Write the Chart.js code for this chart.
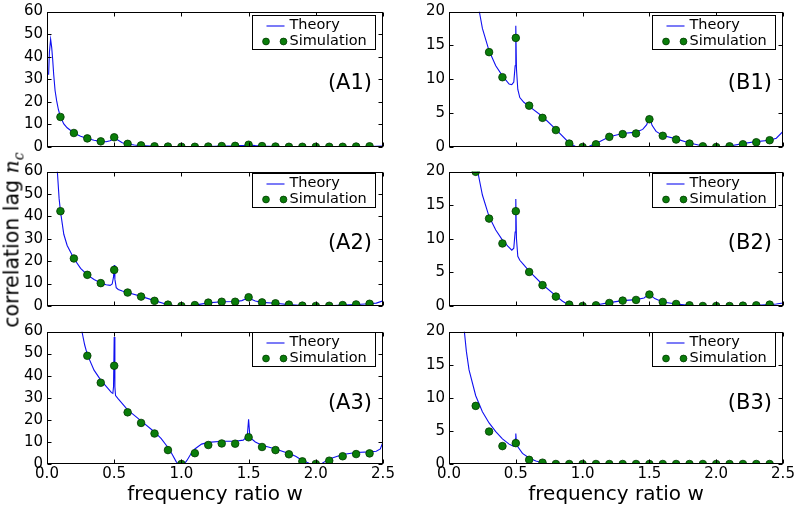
<!DOCTYPE html>
<html>
<head>
<meta charset="utf-8">
<script src="https://cdn.jsdelivr.net/npm/chart.js@4.4.1/dist/chart.umd.min.js"></script>
<style>
  html, body { margin:0; padding:0; background:#fff; }
  #wrap { position:relative; width:799px; height:510px; overflow:hidden; font-family:"DejaVu Sans", sans-serif; }
  .cell { position:absolute; }
  #ylab { position:absolute; left:13px; top:240px; transform:translate(-50%,-50%) rotate(-90deg); white-space:nowrap; font-size:20.5px; color:#000; }
  #ylab i { font-family:"DejaVu Serif", serif; }
  #ylab sub { font-size:14px; }
</style>
</head>
<body>
<div id="wrap">
  <div class="cell" style="left:0;top:0"><canvas id="cA1" width="400" height="160"></canvas></div>
  <div class="cell" style="left:0;top:160px"><canvas id="cA2" width="400" height="160"></canvas></div>
  <div class="cell" style="left:0;top:320px"><canvas id="cA3" width="400" height="190"></canvas></div>
  <div class="cell" style="left:400px;top:0"><canvas id="cB1" width="399" height="160"></canvas></div>
  <div class="cell" style="left:400px;top:160px"><canvas id="cB2" width="399" height="160"></canvas></div>
  <div class="cell" style="left:400px;top:320px"><canvas id="cB3" width="399" height="190"></canvas></div>
  <div id="ylab">correlation lag <i>n</i><sub><i>c</i></sub></div>
</div>
<script>
// simulation sample points (frequency ratio w)
const simX = [0.1,0.2,0.3,0.4,0.5,0.6,0.7,0.8,0.9,1.0,1.1,1.2,1.3,1.4,1.5,1.6,1.7,1.8,1.9,2.0,2.1,2.2,2.3,2.4];

const simA1 = [13.3,6.2,3.8,2.5,4.3,1.4,0.7,0.3,0.2,0.1,0.1,0.2,0.4,0.5,1.0,0.4,0.2,0.1,0.1,0.1,0.1,0.1,0.2,0.3];
const simA2 = [42.3,21.2,13.9,10.2,16.1,6.0,4.2,2.3,0.6,0,0.4,1.5,1.9,1.9,3.9,1.6,1.2,0.6,0.15,0,0.1,0.4,0.7,1.0];
const simA3 = [null,null,49.0,36.8,44.5,23.4,18.6,13.8,6.3,0,4.9,8.6,9.3,9.2,12.1,7.7,6.3,4.4,1.2,0,1.5,3.5,4.5,4.8];
const simB1 = [null,null,14.0,10.3,16.1,6.1,4.3,2.5,0.5,0,0.4,1.5,1.9,2.0,4.1,1.65,1.1,0.5,0.1,0,0.1,0.4,0.7,1.0];
const simB2 = [null,19.95,13.0,9.3,14.1,5.06,3.1,1.4,0.2,0,0.1,0.45,0.8,0.9,1.7,0.6,0.3,0.1,0,0,0,0.05,0.1,0.2];
const simB3 = [null,8.77,4.9,2.7,3.15,0.63,0.2,0,0,0,0,0,0,0,0,0,0,0,0,0,0,0,0,0];

// theory curves, [w, n_c] pairs
const theoryA1 = [[0.012,32],[0.018,42],[0.027,47.7],[0.035,44],[0.042,39],[0.05,32],[0.06,25],[0.072,20.4],[0.085,16.5],[0.1,13.4],
  [0.125,10.2],[0.15,8.5],[0.2,6.2],[0.25,4.8],[0.3,3.8],[0.35,3.0],[0.4,2.5],[0.44,2.3],[0.47,2.8],[0.5,4.0],[0.53,3.0],[0.56,1.9],
  [0.6,1.3],[0.65,0.9],[0.7,0.6],[0.8,0.3],[0.9,0.2],[1.0,0.1],[1.1,0.15],[1.2,0.25],[1.3,0.4],[1.4,0.5],[1.47,0.7],[1.5,0.9],
  [1.55,0.6],[1.6,0.4],[1.7,0.15],[1.8,0.05],[1.9,0.02],[2.0,0.02],[2.1,0.05],[2.2,0.1],[2.3,0.15],[2.4,0.25],[2.5,0.4]];
const theoryA2 = [[0.077,60],[0.09,48],[0.1,42.3],[0.125,32],[0.15,27],[0.2,21.2],[0.25,16.8],[0.3,13.9],[0.35,11.8],[0.4,10.3],
  [0.44,9.5],[0.47,9.2],[0.485,9.8],[0.495,13],[0.5,18.3],[0.505,12],[0.515,8.2],[0.53,7.4],[0.56,6.7],[0.6,6.0],[0.7,4.3],[0.8,2.4],
  [0.9,0.6],[0.95,0.1],[1.0,0],[1.05,0.1],[1.1,0.4],[1.2,1.4],[1.3,1.9],[1.4,2.0],[1.45,2.4],[1.48,3.2],[1.5,4.0],[1.52,3.0],
  [1.55,2.2],[1.6,1.6],[1.7,1.2],[1.8,0.6],[1.9,0.15],[2.0,0],[2.1,0.1],[2.2,0.4],[2.3,0.7],[2.4,1.0],[2.45,1.3],[2.5,2.3]];
const theoryA3 = [[0.26,60],[0.28,54],[0.3,49.5],[0.35,42.5],[0.4,38],[0.45,34.5],[0.48,32.3],[0.49,32],[0.495,35],[0.5,57.5],
  [0.505,35],[0.51,31],[0.53,29.5],[0.6,24.5],[0.7,19.5],[0.8,14.5],[0.85,11.5],[0.9,7.5],[0.93,4.5],[0.96,1.2],[0.975,0],[1.02,0],
  [1.04,1.5],[1.07,4.5],[1.1,6.8],[1.15,9.0],[1.2,9.8],[1.3,10.3],[1.4,10.3],[1.46,10.8],[1.49,12.5],[1.5,20.3],[1.51,12],[1.55,10],
  [1.6,8.5],[1.7,6.8],[1.8,4.8],[1.85,3.5],[1.9,1.6],[1.95,0.3],[1.97,0],[2.04,0],[2.07,1.2],[2.1,2.3],[2.2,4.3],[2.3,5.2],
  [2.4,5.5],[2.45,5.8],[2.48,6.8],[2.5,10]];
const theoryB1 = [[0.227,20],[0.25,17.5],[0.3,14.2],[0.35,12],[0.4,10.5],[0.45,9.3],[0.47,9.2],[0.485,9.6],[0.495,12],[0.5,17.9],
  [0.505,11.5],[0.515,8.5],[0.53,7.3],[0.56,6.6],[0.6,6.0],[0.7,4.5],[0.8,2.6],[0.9,0.6],[0.95,0.05],[1.0,0],[1.05,0.1],[1.1,0.5],
  [1.2,1.5],[1.3,2.0],[1.4,2.2],[1.45,2.6],[1.48,3.3],[1.5,4.5],[1.52,3.2],[1.55,2.3],[1.6,1.7],[1.7,1.2],[1.8,0.6],[1.9,0.15],
  [2.0,0],[2.1,0.15],[2.2,0.5],[2.3,0.8],[2.4,1.0],[2.45,1.3],[2.5,2.3]];
const theoryB2 = [[0.215,20],[0.25,16.5],[0.3,13.3],[0.35,11.3],[0.4,9.8],[0.44,8.9],[0.47,8.3],[0.485,8.6],[0.495,11],[0.5,15.9],
  [0.505,10],[0.515,7.4],[0.53,6.8],[0.56,6.1],[0.6,5.2],[0.7,3.2],[0.8,1.5],[0.85,0.7],[0.9,0.1],[0.95,0],[1.05,0],[1.1,0.15],
  [1.2,0.5],[1.3,0.8],[1.4,0.95],[1.46,1.2],[1.5,1.8],[1.54,1.1],[1.6,0.6],[1.7,0.3],[1.8,0.1],[1.9,0],[2.1,0],[2.2,0.05],
  [2.3,0.1],[2.4,0.2],[2.45,0.3],[2.5,0.45]];
const theoryB3 = [[0.115,20],[0.13,17],[0.15,14.2],[0.2,10.3],[0.25,7.9],[0.3,6.2],[0.35,4.9],[0.4,3.8],[0.45,3.0],[0.48,2.7],
  [0.49,2.8],[0.497,3.8],[0.5,4.6],[0.505,3.2],[0.515,2.6],[0.55,1.6],[0.6,0.9],[0.65,0.45],[0.7,0.18],[0.75,0.03],[0.77,0],[2.5,0]];

const xTicks = [0.0,0.5,1.0,1.5,2.0,2.5];
const yMaxA = 60, yStepA = 10;
const yMaxB = 20, yStepB = 5;

const FONT = '"DejaVu Sans", sans-serif';
const BLUE = '#1010f0', GREEN = '#0a7d0a', GREEN_EDGE = '#003a00';

// frame, inward ticks, boxed legend and panel label (matplotlib look)
const framePlugin = {
  id: 'frame',
  afterDatasetsDraw(chart, args, opts){
    const ctx = chart.ctx, a = chart.chartArea;
    const L = Math.round(a.left)+0.5, R = Math.round(a.right)-0.5, T = Math.round(a.top)+0.5, B = Math.round(a.bottom)-0.5;
    ctx.save();
    ctx.strokeStyle = '#000'; ctx.lineWidth = 1;
    ctx.strokeRect(L, T, R-L, B-T);
    const tl = 4;
    ctx.beginPath();
    chart.scales.x.ticks.forEach(t => {
      const px = Math.round(chart.scales.x.getPixelForValue(t.value))+0.5;
      ctx.moveTo(px, B); ctx.lineTo(px, B-tl);
      ctx.moveTo(px, T); ctx.lineTo(px, T+tl);
    });
    chart.scales.y.ticks.forEach(t => {
      const py = Math.round(chart.scales.y.getPixelForValue(t.value))+0.5;
      ctx.moveTo(L, py); ctx.lineTo(L+tl, py);
      ctx.moveTo(R, py); ctx.lineTo(R-tl, py);
    });
    ctx.stroke();

    // legend box
    const bw = 123, bh = 34;
    const bx = Math.round(a.right - 8 - bw)+0.5, by = Math.round(a.top + (opts.legendGap||0))+0.5;
    ctx.fillStyle = '#fff';
    ctx.fillRect(bx, by, bw, bh);
    ctx.strokeStyle = '#000';
    ctx.strokeRect(bx, by, bw, bh);
    const r1 = by + 10, r2 = by + 26;
    ctx.strokeStyle = BLUE; ctx.lineWidth = 1.1;
    ctx.beginPath(); ctx.moveTo(bx+14, Math.round(r1)); ctx.lineTo(bx+32, Math.round(r1)); ctx.stroke();
    [bx+13.5, bx+31].forEach(cx => {
      ctx.beginPath(); ctx.arc(cx, r2, 3.4, 0, Math.PI*2);
      ctx.fillStyle = GREEN; ctx.fill();
      ctx.strokeStyle = GREEN_EDGE; ctx.lineWidth = 0.8; ctx.stroke();
    });
    ctx.fillStyle = '#000';
    ctx.font = '14.5px ' + FONT;
    ctx.textAlign = 'left'; ctx.textBaseline = 'middle';
    ctx.fillText('Theory', bx+37, r1);
    ctx.fillText('Simulation', bx+37, r2);

    // panel label
    ctx.font = '21px ' + FONT;
    ctx.textAlign = 'right';
    ctx.fillText(opts.label, a.right - 11, a.top + 72);
    ctx.restore();
  }
};

function makePanel(id, cfg){
  const simPts = simX.map((x,i) => ({x:x, y:cfg.sim[i]})).filter(p => p.y !== null);
  const thPts = cfg.theory.map(p => ({x:p[0], y:p[1]}));
  const bottomRow = cfg.bottom;
  new Chart(document.getElementById(id), {
    type: 'scatter',
    data: {
      datasets: [
        { label:'Theory', data: thPts, showLine:true, borderColor:BLUE, borderWidth:1.1, pointRadius:0, tension:0, order:2 },
        { label:'Simulation', data: simPts, showLine:false, pointRadius:3.8, pointBackgroundColor:GREEN,
          pointBorderColor:GREEN_EDGE, pointBorderWidth:0.8, order:1 }
      ]
    },
    plugins: [framePlugin],
    options: {
      responsive:false,
      animation:false,
      layout: { padding: cfg.pad },
      plugins: {
        legend: { display:false },
        tooltip: { enabled:false },
        frame: { label: cfg.label, legendGap: cfg.gap }
      },
      scales: {
        x: {
          type:'linear', min:0, max:2.5,
          afterBuildTicks: s => { s.ticks = xTicks.map(v => ({value:v})); },
          grid: { display:false, drawTicks:false },
          border: { display:false },
          ticks: { display: bottomRow, color:'#000', padding:3, font:{family:FONT, size:15, lineHeight:1},
                   maxRotation:0, callback: v => Number(v).toFixed(1) },
          title: { display: bottomRow, text:'frequency ratio w', color:'#000', font:{family:FONT, size:20}, padding:{top:0, bottom:3} },
          afterFit: s => { s.height = bottomRow ? 46 : 0; }
        },
        y: {
          type:'linear', min:0, max:cfg.ymax,
          grid: { display:false, drawTicks:false },
          border: { display:false },
          ticks: { stepSize:cfg.ystep, color:'#000', padding:4, font:{family:FONT, size:15, lineHeight:1} },
          afterFit: s => { s.width = cfg.yw; }
        }
      }
    }
  });
}

makePanel('cA1', { sim:simA1, theory:theoryA1, label:'(A1)', ymax:yMaxA, ystep:yStepA, yw:47, gap:3, bottom:false,
  pad:{top:9, bottom:13, left:0, right:17} });
makePanel('cA2', { sim:simA2, theory:theoryA2, label:'(A2)', ymax:yMaxA, ystep:yStepA, yw:47, gap:1, bottom:false,
  pad:{top:9, bottom:14, left:0, right:17} });
makePanel('cA3', { sim:simA3, theory:theoryA3, label:'(A3)', ymax:yMaxA, ystep:yStepA, yw:47, gap:0, bottom:true,
  pad:{top:7, bottom:0, left:0, right:17} });
makePanel('cB1', { sim:simB1, theory:theoryB1, label:'(B1)', ymax:yMaxB, ystep:yStepB, yw:49, gap:3, bottom:false,
  pad:{top:9, bottom:13, left:0, right:16} });
makePanel('cB2', { sim:simB2, theory:theoryB2, label:'(B2)', ymax:yMaxB, ystep:yStepB, yw:49, gap:1, bottom:false,
  pad:{top:9, bottom:14, left:0, right:16} });
makePanel('cB3', { sim:simB3, theory:theoryB3, label:'(B3)', ymax:yMaxB, ystep:yStepB, yw:49, gap:0, bottom:true,
  pad:{top:7, bottom:0, left:0, right:16} });
</script>
</body>
</html>
